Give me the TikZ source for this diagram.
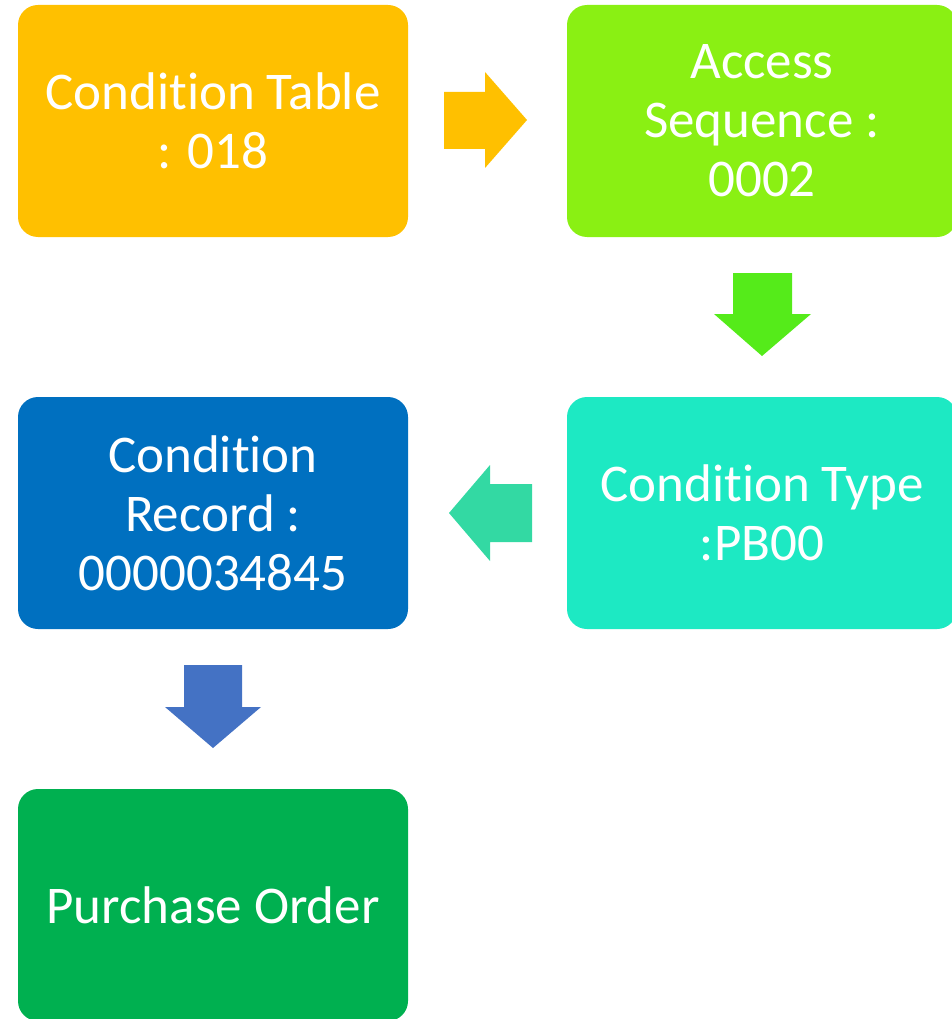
\documentclass[tikz,border=0pt]{standalone}
\usepackage{fontspec}
\setmainfont[Ligatures=NoCommon]{Carlito}
\definecolor{cOrange}{HTML}{FFC000}
\definecolor{cLime}{HTML}{8AF013}
\definecolor{cLimeArrow}{HTML}{55EB1A}
\definecolor{cTeal}{HTML}{1DE9C3}
\definecolor{cTealArrow}{HTML}{33D9A3}
\definecolor{cBlue}{HTML}{0070C0}
\definecolor{cBlueArrow}{HTML}{4472C4}
\definecolor{cGreen}{HTML}{00B050}
\begin{document}
\begin{tikzpicture}[x=1pt,y=-1pt,
  boxnode/.style={rounded corners=20pt, minimum width=390pt, minimum height=232pt,
    inner sep=0pt, text=white, align=center,
    font=\fontsize{53}{59}\selectfont}]
\useasboundingbox (0,0) rectangle (951,1019);
\node[boxnode, fill=cOrange] (b1) at (213,121) {Condition Table\\: 018};
\node[boxnode, fill=cLime] (b2) at (762,121) {Access\\Sequence :\\0002};
\node[boxnode, fill=cTeal] (b3) at (762,513) {Condition Type\\:PB00};
\node[boxnode, fill=cBlue] (b4) at (213,513) {Condition\\Record :\\0000034845};
\node[boxnode, fill=cGreen] (b5) at (213,905) {Purchase Order};
\fill[cOrange] (444,92) -- (485,92) -- (485,72) -- (527,120) -- (485,168) -- (485,149) -- (444,149) -- cycle;
\fill[cLimeArrow] (733,273) -- (792,273) -- (792,314) -- (811,314) -- (762,356) -- (714,314) -- (733,314) -- cycle;
\fill[cTealArrow] (532,484) -- (490,484) -- (490,465) -- (449,513) -- (490,561) -- (490,542) -- (532,542) -- cycle;
\fill[cBlueArrow] (184,665) -- (242,665) -- (242,707) -- (261,707) -- (213,748) -- (165,707) -- (184,707) -- cycle;
\end{tikzpicture}
\end{document}
